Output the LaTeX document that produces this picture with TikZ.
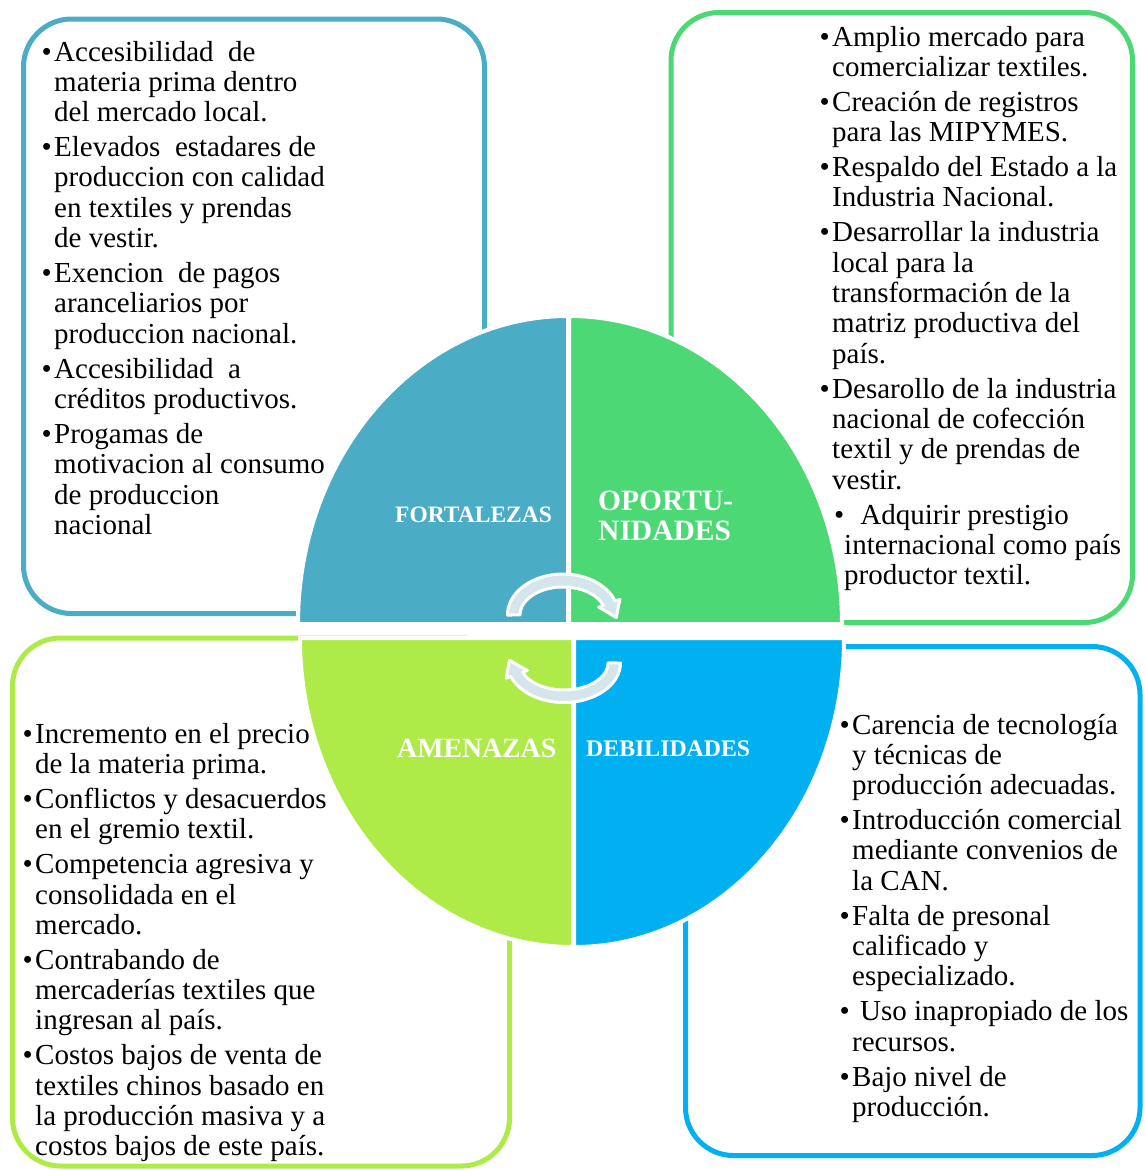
\documentclass[tikz,border=0pt]{standalone}
\usepackage{fontspec}
\setmainfont{Liberation Serif}
\definecolor{cTL}{RGB}{75,172,198}
\definecolor{cTR}{RGB}{76,216,117}
\definecolor{cBL}{RGB}{174,234,72}
\definecolor{cBR}{RGB}{0,176,240}
\definecolor{cArr}{RGB}{213,229,236}
\newcommand\bul[1]{\hbox{\llap{•\hspace{2.5pt}}#1}}
\newcommand\cnt[1]{\hbox{#1}}
\newcommand\gp{\vskip4.67pt}
\newcommand\txtfont{\fontsize{29}{30.33}\selectfont}
\newcommand\lst[1]{\vtop{\lineskiplimit=-100pt\relax #1}}
\begin{document}
\begin{tikzpicture}[x=1pt,y=-1pt,
  box/.style={line width=5pt, rounded corners=48pt},
  quarter/.style={draw=white, line width=4pt},
  arr/.style={fill=cArr, draw=white, line width=3pt, line join=round},
  list/.style={anchor=base west, inner sep=0pt, font=\txtfont},
  lab/.style={anchor=base west, inner sep=0pt, text=white}]

\fill[white] (0,0) rectangle (1144,1170);
\useasboundingbox (0,0) rectangle (1144,1170);

% outer boxes
\draw[box, cTL] (23.5,19) rectangle (484.5,613.5);
\draw[box, cTR] (671,12.5) rectangle (1132.5,622.5);
\draw[box, cBL] (12.5,638) rectangle (509.5,1166);
\draw[box, cBR] (685.5,646.5) rectangle (1140,1155.5);

% pie quarters
\filldraw[quarter, fill=cTL] (568,624) -- (298,624) arc[start angle=180, end angle=90, x radius=270pt, y radius=308pt] -- cycle;
\filldraw[quarter, fill=cTR] (569,624) -- (569,316) arc[start angle=90, end angle=0, x radius=273pt, y radius=308pt] -- cycle;
\filldraw[quarter, fill=cBL] (573,638) -- (300,638) arc[start angle=180, end angle=270, x radius=273pt, y radius=309pt] -- cycle;
\filldraw[quarter, fill=cBR] (574,638) -- (844,638) arc[start angle=0, end angle=-90, x radius=270pt, y radius=309pt] -- cycle;

% circular arrows
\filldraw[arr] (507.5,615) arc[start angle=180, end angle=20, x radius=55.5pt, y radius=41pt]
  -- (619.9,599.3) -- (616.3,617.6) -- (598.7,607.1) -- (603.4,605.4)
  arc[start angle=20, end angle=180, x radius=43pt, y radius=28pt] -- cycle;
\filldraw[arr] (620.5,663) arc[start angle=0, end angle=-160, x radius=56.5pt, y radius=39.5pt]
  -- (506.2,678.2) -- (509.4,660.2) -- (527.35,670.5) -- (522.65,672.2)
  arc[start angle=-160, end angle=0, x radius=44pt, y radius=27pt] -- cycle;

% labels
\node[lab, font=\bfseries\fontsize{23.5}{28}\selectfont] (fo) at (395,522) {FORTALEZAS};
\node[lab, font=\bfseries\fontsize{29.5}{30}\selectfont] (op) at (598,510) {\vtop{\baselineskip=30pt\lineskiplimit=-100pt\hbox{OPORTU-}\hbox{NIDADES}}};
\node[lab, font=\bfseries\fontsize{27.8}{30}\selectfont] (am) at (397,757) {AMENAZAS};
\node[lab, font=\bfseries\fontsize{23.8}{28}\selectfont] (de) at (586,756) {DEBILIDADES};

% lists
\node[list] (tl) at (54,61) {\lst{%
\bul{Accesibilidad\ \ de}
\cnt{materia prima dentro}
\cnt{del mercado local.}
\gp
\bul{Elevados\ \ estadares de}
\cnt{produccion con calidad}
\cnt{en textiles y prendas}
\cnt{de vestir.}
\gp
\bul{Exencion\ \ de pagos}
\cnt{aranceliarios por}
\cnt{produccion nacional.}
\gp
\bul{Accesibilidad\ \ a}
\cnt{créditos productivos.}
\gp
\bul{Progamas de}
\cnt{motivacion al consumo}
\cnt{de produccion}
\cnt{nacional}}};

\node[list] (tr) at (832,46) {\lst{%
\bul{Amplio mercado para}
\cnt{comercializar textiles.}
\gp
\bul{Creación de registros}
\cnt{para las MIPYMES.}
\gp
\bul{Respaldo del Estado a la}
\cnt{Industria Nacional.}
\gp
\bul{Desarrollar la industria}
\cnt{local para la}
\cnt{transformación de la}
\cnt{matriz productiva del}
\cnt{país.}
\gp
\bul{Desarollo de la industria}
\cnt{nacional de cofección}
\cnt{textil y de prendas de}
\cnt{vestir.}
\gp
\hbox{\hspace{2pt}•\hspace{16pt}Adquirir prestigio}
\hbox{\hspace{12pt}internacional como país}
\hbox{\hspace{12pt}productor textil.}}};

\node[list] (bl) at (35,743) {\lst{%
\bul{Incremento en el precio}
\cnt{de la materia prima.}
\gp
\bul{Conflictos y desacuerdos}
\cnt{en el gremio textil.}
\gp
\bul{Competencia agresiva y}
\cnt{consolidada en el}
\cnt{mercado.}
\gp
\bul{Contrabando de}
\cnt{mercaderías textiles que}
\cnt{ingresan al país.}
\gp
\bul{Costos bajos de venta de}
\cnt{textiles chinos basado en}
\cnt{la producción masiva y a}
\cnt{costos bajos de este país.}}};

\node[list] (br) at (852,734) {\lst{%
\bul{Carencia de tecnología}
\cnt{y técnicas de}
\cnt{producción adecuadas.}
\gp
\bul{Introducción comercial}
\cnt{mediante convenios de}
\cnt{la CAN.}
\gp
\bul{Falta de presonal}
\cnt{calificado y}
\cnt{especializado.}
\gp
\bul{\hspace{8pt}Uso inapropiado de los}
\cnt{recursos.}
\gp
\bul{Bajo nivel de}
\cnt{producción.}}};
\end{tikzpicture}
\end{document}
